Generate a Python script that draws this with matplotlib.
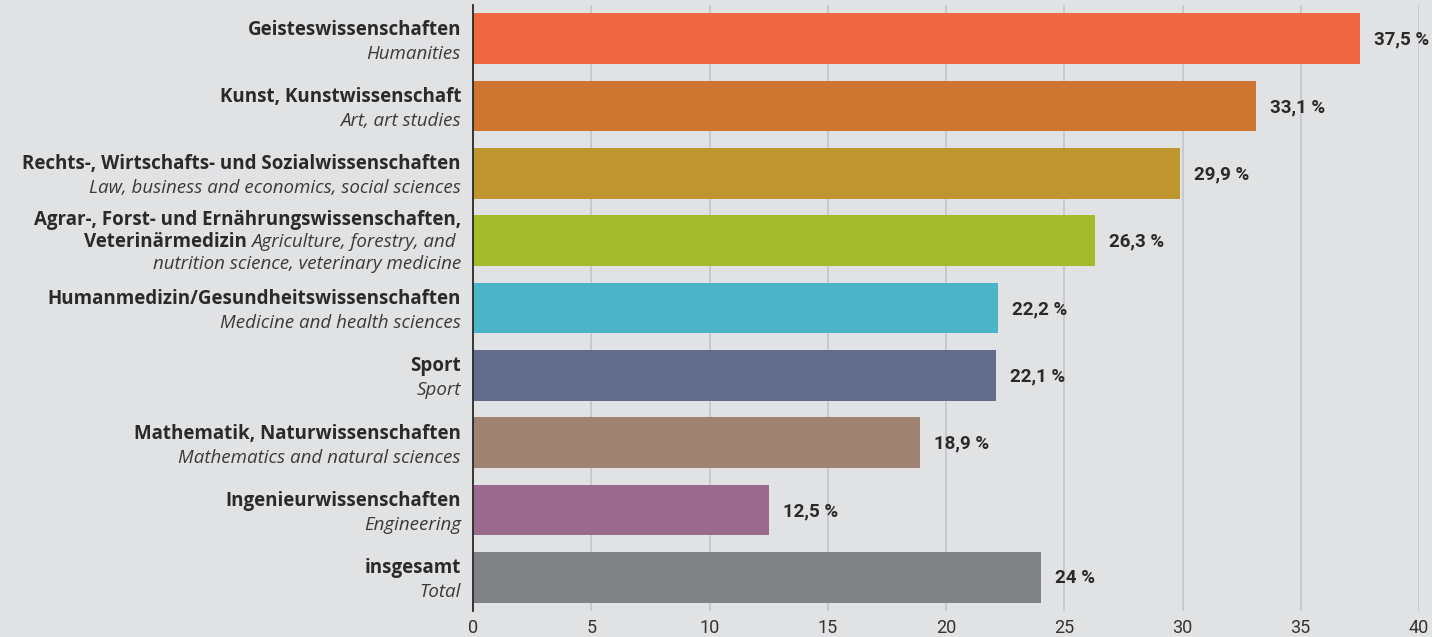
import matplotlib
matplotlib.use("Agg")
import matplotlib.pyplot as plt
from matplotlib.transforms import offset_copy, blended_transform_factory

# Share of students by field of study (%)
names_de = [
    "Geisteswissenschaften",
    "Kunst, Kunstwissenschaft",
    "Rechts-, Wirtschafts- und Sozialwissenschaften",
    "Agrar-, Forst- und Ernährungswissenschaften,",
    "Humanmedizin/Gesundheitswissenschaften",
    "Sport",
    "Mathematik, Naturwissenschaften",
    "Ingenieurwissenschaften",
    "insgesamt",
]
names_en = [
    "Humanities",
    "Art, art studies",
    "Law, business and economics, social sciences",
    "Agriculture, forestry, and",
    "Medicine and health sciences",
    "Sport",
    "Mathematics and natural sciences",
    "Engineering",
    "Total",
]
values = [37.5, 33.1, 29.9, 26.3, 22.2, 22.1, 18.9, 12.5, 24.0]
value_labels = ["37,5 %", "33,1 %", "29,9 %", "26,3 %", "22,2 %", "22,1 %", "18,9 %", "12,5 %", "24 %"]
colors = ["#f06742", "#cf7532", "#bf952f", "#a4bb2b", "#4bb4c6",
          "#636c8a", "#9e8373", "#9a6b8c", "#818285"]
xticks = [0, 5, 10, 15, 20, 25, 30, 35, 40]

BG = "#e1e2e4"
TXT = "#2a2a2a"
ITXT = "#3a3a3a"
LABEL_FONT = ["Open Sans", "DejaVu Sans"]
NUM_FONT = ["Roboto", "DejaVu Sans"]
FS = 13.5

fig = plt.figure(figsize=(14.32, 6.37), dpi=100, facecolor=BG)
ax = fig.add_axes([473 / 1432, 26 / 637, 946 / 1432, 606 / 637])
ax.set_facecolor(BG)

ypos = list(range(len(values)))
ax.barh(ypos, values, height=0.75, color=colors, zorder=3)
ax.set_ylim(len(values) - 0.5, -0.5)
ax.set_xlim(0, 40)

for s in ["top", "right", "bottom"]:
    ax.spines[s].set_visible(False)
ax.spines["left"].set_color("#2a2a2a")
ax.spines["left"].set_linewidth(1.3)
ax.spines["left"].set_zorder(4)

ax.set_xticks(xticks)
ax.set_xticklabels([str(t) for t in xticks], family=NUM_FONT, fontsize=13, color="#333333")
ax.tick_params(axis="x", length=0, pad=6)
ax.set_yticks([])
ax.xaxis.grid(True, color="#c4c5c8", linewidth=1.2, zorder=0)
ax.set_axisbelow(True)

# value labels next to the bar ends
for y, v, lab in zip(ypos, values, value_labels):
    ax.annotate(lab, xy=(v, y), xytext=(14, -6), textcoords="offset pixels",
                ha="left", va="baseline", fontsize=13.5, fontweight="bold",
                family=NUM_FONT, color=TXT)

# category labels left of the axis
tr = blended_transform_factory(ax.transAxes, ax.transData)
lab_tr = offset_copy(tr, fig=fig, x=-12, y=0, units="dots")
fig.canvas.draw()
renderer = fig.canvas.get_renderer()


def label(y, text, dx, dy, bold):
    return ax.text(0, y, text, transform=offset_copy(lab_tr, fig=fig, x=dx, y=dy, units="dots"),
                   ha="right", va="baseline", fontsize=FS,
                   fontweight="bold" if bold else "normal",
                   fontstyle="normal" if bold else "italic",
                   family=LABEL_FONT, color=TXT if bold else ITXT)


for y, de, en in zip(ypos, names_de, names_en):
    if y == 3:
        # three-line label with a mixed bold/italic middle line
        label(y, de, 0, 16, True)
        it = label(y, en, -5, -6, False)
        w = it.get_window_extent(renderer).width
        label(y, "Veterinärmedizin", -5 - w - 5, -6, True)
        label(y, "nutrition science, veterinary medicine", 0, -28, False)
    else:
        label(y, de, 0, 4, True)
        label(y, en, 0, -20, False)

fig.savefig("out.png", dpi=100, facecolor=BG)
